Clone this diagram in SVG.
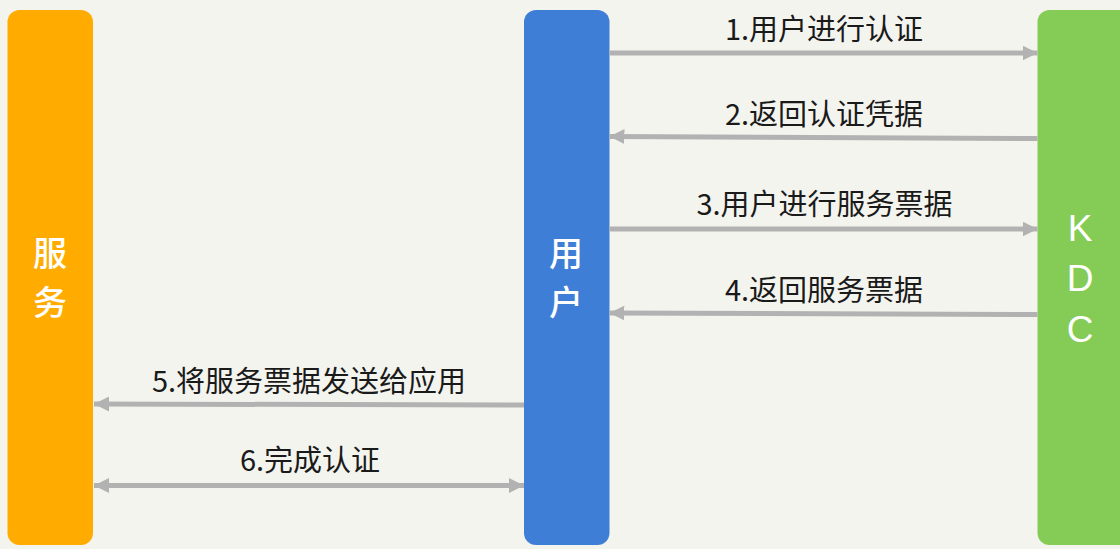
<svg xmlns="http://www.w3.org/2000/svg" width="1120" height="549" viewBox="0 0 1120 549">
<style>
.lbl{font-family:"Noto Sans CJK SC","Liberation Sans",sans-serif;font-size:29px;fill:#1a1a1a;text-anchor:middle}
.node{font-family:"Noto Sans CJK SC","Liberation Sans",sans-serif;font-size:34px;font-weight:500;fill:#ffffff;text-anchor:middle}
.kdc{font-family:"Liberation Sans","Noto Sans CJK SC",sans-serif;font-size:37px;fill:#ffffff;text-anchor:middle}
.ln{stroke:#b2b2b2;stroke-width:5;fill:none}
</style>
<defs>
<marker id="ah" viewBox="0 0 15 15" refX="15" refY="7.5" markerWidth="15" markerHeight="15" markerUnits="userSpaceOnUse" orient="auto-start-reverse">
<path d="M0,0 L15,7.5 L0,15 Z" fill="#b2b2b2"/>
</marker>
</defs>
<rect width="1120" height="549" fill="#f4f4ef"/>
<g id="node-service">
<rect x="7.5" y="10" width="85.5" height="535" rx="12" fill="#ffab00"/>
<text class="node" x="50" y="266">服</text>
<text class="node" x="50" y="315">务</text>
</g>
<g id="node-user">
<rect x="524" y="10" width="85.5" height="535" rx="12" fill="#3f7ed6"/>
<text class="node" x="566" y="266">用</text>
<text class="node" x="566" y="315">户</text>
</g>
<g id="node-kdc">
<rect x="1037.5" y="10" width="100" height="535" rx="12" fill="#84cc55"/>
<text class="kdc" x="1080" y="241">K</text>
<text class="kdc" x="1080" y="291">D</text>
<text class="kdc" x="1080" y="342">C</text>
</g>
<g id="connectors">
<line class="ln" x1="609.5" y1="53" x2="1037.5" y2="53" marker-end="url(#ah)"/>
<line class="ln" x1="1037.5" y1="138.5" x2="609.5" y2="136.5" marker-end="url(#ah)"/>
<line class="ln" x1="609.5" y1="229" x2="1037.5" y2="229" marker-end="url(#ah)"/>
<line class="ln" x1="1037.5" y1="314.5" x2="609.5" y2="313" marker-end="url(#ah)"/>
<line class="ln" x1="524" y1="405" x2="94" y2="404" marker-end="url(#ah)"/>
<line class="ln" x1="94" y1="485.5" x2="524" y2="485.5" marker-start="url(#ah)" marker-end="url(#ah)"/>
</g>
<g id="labels">
<text class="lbl" x="824" y="40">1.用户进行认证</text>
<text class="lbl" x="824" y="125">2.返回认证凭据</text>
<text class="lbl" x="824.5" y="215">3.用户进行服务票据</text>
<text class="lbl" x="824" y="301">4.返回服务票据</text>
<text class="lbl" x="309" y="392">5.将服务票据发送给应用</text>
<text class="lbl" x="310" y="471">6.完成认证</text>
</g>
</svg>
